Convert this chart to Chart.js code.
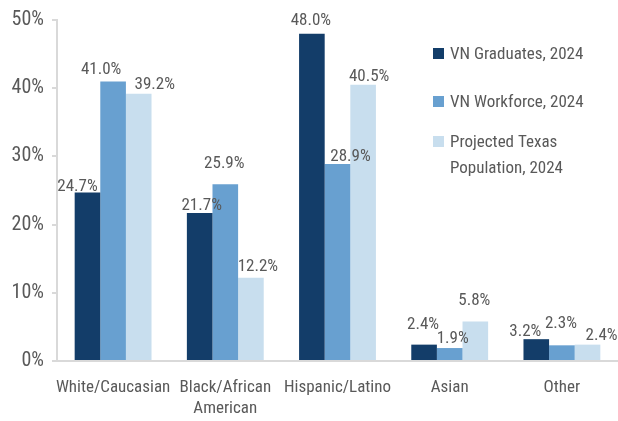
<!DOCTYPE html>
<html>
<head>
<meta charset="utf-8">
<script src="https://cdn.jsdelivr.net/npm/chart.js@4/dist/chart.umd.min.js"></script>
<style>
html,body{margin:0;padding:0;background:#fff;}
#wrap{width:618px;height:421px;position:relative;}
</style>
</head>
<body>
<div id="wrap"><canvas id="c"></canvas></div>
<script>
const categories = ['White/Caucasian', ['Black/African','American'], 'Hispanic/Latino', 'Asian', 'Other'];
const seriesNames = ['VN Graduates, 2024', 'VN Workforce, 2024', 'Projected Texas Population, 2024'];
const vnGraduates = [24.7, 21.7, 48.0, 2.4, 3.2];
const vnWorkforce = [41.0, 25.9, 28.9, 1.9, 2.3];
const texasPopulation = [39.2, 12.2, 40.5, 5.8, 2.4];
const yTicks = [0, 10, 20, 30, 40, 50];

const FONT = "'Roboto Condensed','Liberation Sans Narrow',sans-serif";
const TEXT = '#595959';
const colors = ['#133D69', '#68A0D0', '#C8DEEE'];
// label nudges (dx, dy) per dataset/category, style only
const nudges = [
  [[-10,2],[2,1],[-1,-5],[-1,-12],[-11,1]],
  [[-12,-3],[-1,-12],[13,1],[3,-1],[-1,-13]],
  [[16,-1],[7,-3],[6,0],[-1,-12],[14,-1]]
];

const labelPlugin = {
  id: 'barLabels',
  afterDatasetsDraw(chart) {
    const ctx = chart.ctx;
    ctx.save();
    ctx.font = '17px ' + FONT;
    ctx.fillStyle = TEXT;
    ctx.textAlign = 'center';
    ctx.textBaseline = 'alphabetic';
    chart.data.datasets.forEach((ds, di) => {
      const meta = chart.getDatasetMeta(di);
      meta.data.forEach((bar, i) => {
        const n = nudges[di][i];
        ctx.fillText(ds.data[i].toFixed(1) + '%', bar.x + n[0], bar.y - 4 + n[1]);
      });
    });
    ctx.restore();
  }
};

const legendPlugin = {
  id: 'customLegend',
  afterDraw(chart) {
    const ctx = chart.ctx;
    ctx.save();
    ctx.font = '17px ' + FONT;
    ctx.textBaseline = 'alphabetic';
    ctx.textAlign = 'left';
    const items = [
      {y: 48, lines: [seriesNames[0]]},
      {y: 96, lines: [seriesNames[1]]},
      {y: 136, lines: ['Projected Texas', 'Population, 2024']}
    ];
    items.forEach((it, k) => {
      ctx.fillStyle = colors[k];
      ctx.fillRect(433, it.y, 11, 11);
      ctx.fillStyle = TEXT;
      it.lines.forEach((ln, j) => ctx.fillText(ln, 450, it.y + 11 + j * 26));
    });
    ctx.restore();
  }
};

new Chart(document.getElementById('c'), {
  type: 'bar',
  data: {
    labels: categories,
    datasets: [
      {label: seriesNames[0], data: vnGraduates, backgroundColor: colors[0]},
      {label: seriesNames[1], data: vnWorkforce, backgroundColor: colors[1]},
      {label: seriesNames[2], data: texasPopulation, backgroundColor: colors[2]}
    ]
  },
  options: {
    responsive: true,
    maintainAspectRatio: false,
    animation: false,
    layout: {padding: {top: 15, right: 0, left: 0, bottom: 0}},
    datasets: {bar: {categoryPercentage: 0.685, barPercentage: 1.0, borderWidth: 0}},
    plugins: {legend: {display: false}, tooltip: {enabled: false}},
    scales: {
      x: {
        grid: {display: false},
        border: {color: '#d9d9d9', width: 2},
        ticks: {color: TEXT, font: {family: FONT, size: 17}, padding: 9, maxRotation: 0, autoSkip: false},
        afterFit(s) { s.height = 60; }
      },
      y: {
        min: 0, max: 50,
        afterBuildTicks(s) { s.ticks = yTicks.map(v => ({value: v})); },
        grid: {drawOnChartArea: false, drawTicks: true, tickLength: 5, color: '#d9d9d9', lineWidth: 2},
        border: {color: '#d9d9d9', width: 2},
        ticks: {color: TEXT, font: {family: FONT, size: 20}, padding: 8, callback: v => v + '%'},
        afterFit(s) { s.width = 57; }
      }
    }
  },
  plugins: [labelPlugin, legendPlugin]
});
</script>
</body>
</html>
